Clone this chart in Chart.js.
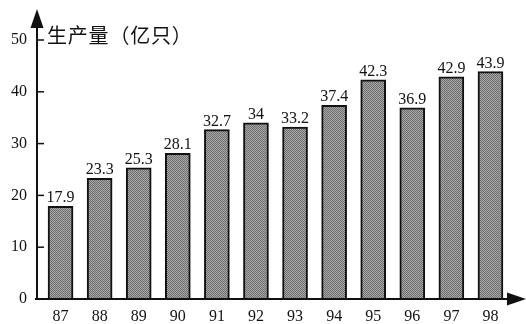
<!DOCTYPE html>
<html>
<head>
<meta charset="utf-8">
<script src="https://cdn.jsdelivr.net/npm/chart.js@4/dist/chart.umd.min.js"></script>
<style>
  html, body { margin: 0; padding: 0; background: #fff; }
  #wrap { width: 526px; height: 324px; position: relative; }
</style>
</head>
<body>
<div id="wrap"><canvas id="c" width="526" height="324"></canvas></div>
<script>
// Annual output, 1987–1998 (hundred-million units)
const years = ['87', '88', '89', '90', '91', '92', '93', '94', '95', '96', '97', '98'];
const output = [17.9, 23.3, 25.3, 28.1, 32.7, 34, 33.2, 37.4, 42.3, 36.9, 42.9, 43.9];
const yTicks = [0, 10, 20, 30, 40, 50];
const axisTitle = '生产量（亿只）';

const serif = '"Liberation Serif", "DejaVu Serif", serif';
const ink = '#111';

// fine grey checker used as the bar fill
function makeFill() {
  const p = document.createElement('canvas');
  p.width = 2; p.height = 2;
  const g = p.getContext('2d');
  g.fillStyle = '#a8a8a8'; g.fillRect(0, 0, 2, 2);
  g.fillStyle = '#6e6e6e'; g.fillRect(0, 0, 1, 1); g.fillRect(1, 1, 1, 1);
  return g.createPattern(p, 'repeat');
}
const ctx0 = document.getElementById('c').getContext('2d');
const barFill = makeFill();

// arrowed axes, inner tick marks, value labels and the axis title
const axesPlugin = {
  id: 'axes',
  afterDatasetsDraw(chart) {
    const { ctx, chartArea, scales } = chart;
    const x0 = chartArea.left - 4;
    const y0 = scales.y.getPixelForValue(0);
    ctx.save();
    ctx.strokeStyle = ink;
    ctx.fillStyle = ink;
    ctx.lineWidth = 2;
    // y axis with arrow
    ctx.beginPath();
    ctx.moveTo(x0, y0 + 1);
    ctx.lineTo(x0, 26);
    ctx.stroke();
    ctx.beginPath();
    ctx.moveTo(x0, 9);
    ctx.lineTo(x0 - 6.5, 28);
    ctx.lineTo(x0 + 6.5, 28);
    ctx.closePath();
    ctx.fill();
    // x axis with arrow
    ctx.beginPath();
    ctx.moveTo(x0 - 2, y0);
    ctx.lineTo(510, y0);
    ctx.stroke();
    ctx.beginPath();
    ctx.moveTo(526, y0);
    ctx.lineTo(507, y0 - 6.5);
    ctx.lineTo(507, y0 + 6.5);
    ctx.closePath();
    ctx.fill();
    // inner tick marks
    ctx.lineWidth = 1.5;
    yTicks.forEach(v => {
      if (v === 0) return;
      const py = scales.y.getPixelForValue(v);
      ctx.beginPath();
      ctx.moveTo(x0, py);
      ctx.lineTo(x0 + 7, py);
      ctx.stroke();
    });
    // value labels
    ctx.font = '16px ' + serif;
    ctx.textAlign = 'center';
    ctx.textBaseline = 'alphabetic';
    const meta = chart.getDatasetMeta(0);
    meta.data.forEach((bar, i) => {
      ctx.fillText(String(output[i]), bar.x, bar.y - 4);
    });
    // axis title
    ctx.font = '20px "Noto Sans CJK SC", sans-serif';
    ctx.letterSpacing = '0.8px';
    ctx.textAlign = 'left';
    ctx.textBaseline = 'middle';
    ctx.fillText(axisTitle, 47, 35);
    ctx.restore();
  }
};

new Chart(ctx0, {
  type: 'bar',
  data: {
    labels: years,
    datasets: [{
      data: output,
      backgroundColor: barFill,
      borderColor: ink,
      borderWidth: { top: 2, left: 2, right: 2, bottom: 0 },
      borderSkipped: false,
      barThickness: 25
    }]
  },
  options: {
    responsive: false,
    animation: false,
    events: [],
    layout: { padding: { top: 40, right: 16, left: 0, bottom: 0 } },
    plugins: { legend: { display: false }, tooltip: { enabled: false } },
    scales: {
      x: {
        offset: true,
        grid: { display: false, drawTicks: false },
        border: { display: false },
        ticks: { color: ink, font: { family: serif, size: 16 }, padding: 8, maxRotation: 0 },
        afterFit(s) { s.height = 25; }
      },
      y: {
        min: 0, max: 50,
        afterBuildTicks(s) { s.ticks = yTicks.map(v => ({ value: v })); },
        grid: { display: false, drawTicks: false },
        border: { display: false },
        ticks: { color: ink, font: { family: serif, size: 16 }, padding: 14 },
        afterFit(s) { s.width = 41; }
      }
    }
  },
  plugins: [axesPlugin]
});
</script>
</body>
</html>
